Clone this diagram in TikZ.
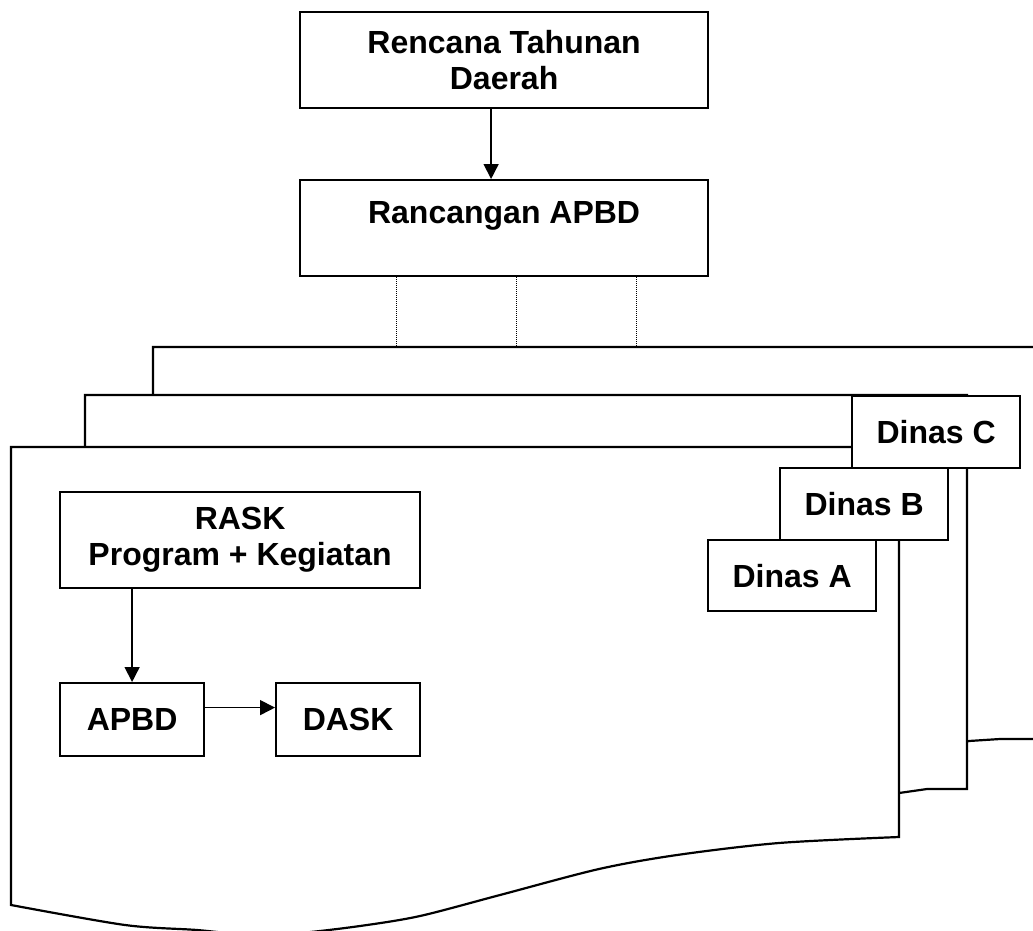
\documentclass[tikz,border=0pt]{standalone}
\usepackage{fontspec}
\setmainfont{Liberation Sans}
\usetikzlibrary{arrows.meta}
\begin{document}
\begin{tikzpicture}[x=1pt,y=-1pt,
  box/.style={draw,line width=2.2pt,fill=white,anchor=north west,inner sep=0pt,
    align=center,font=\bfseries\fontsize{32}{36}\selectfont},
  arr/.style={line width=1.6pt,-{Triangle[length=15pt,width=15pt]}},
  page/.style={draw,line width=2.2pt,fill=white},
  dotline/.style={line width=1pt,densely dotted}]
\useasboundingbox (0,0) rectangle (1033,931);
\clip (0,0) rectangle (1033,931);
% Top of the chain
\node[box,minimum width=408pt,minimum height=96pt] (rencana) at (299,11) {Rencana Tahunan\\Daerah};
\node[box,minimum width=408pt,text height=43pt,text depth=53pt] (rancangan) at (299,179) {Rancangan APBD};
\draw[arr] ([xshift=-13pt]rencana.south) -- ([xshift=-13pt]rancangan.north);
% Stacked sheets, back to front
\coordinate (backtop) at (153,347);
\filldraw[page] (backtop) -- (1045,347) -- (1045,739) -- (1000,739) -- (969,741) -- (900,760) -- (153,760) -- cycle;
\foreach \dx in {-108,12,132}
  \draw[dotline] ([xshift=\dx pt]rancangan.south) coordinate (tap) -- (tap |- backtop);
\filldraw[page] (85,395) -- (967,395) -- (967,789) -- (927,789) -- (899,793) -- (85,793) -- cycle;
\filldraw[page] (11,447) -- (899,447) -- (899,837)
  -- plot[smooth,tension=0.5] coordinates {(899,837) (779,843) (677,855) (599,869) (500,895)
     (420,916) (360,926) (300,933) (250,935) (197,930) (125,925) (11,905)}
  -- cycle;
% Tabs
\node[box,minimum width=168pt,minimum height=72pt] (dinasC) at (851,395) {Dinas C};
\node[box,minimum width=168pt,minimum height=72pt] (dinasB) at (779,467) {Dinas B};
\node[box,minimum width=168pt,minimum height=71pt] (dinasA) at (707,539) {Dinas A};
% Front sheet
\node[box,minimum width=360pt,minimum height=96pt] (rask) at (59,491) {RASK\\Program + Kegiatan};
\node[box,minimum width=144pt,minimum height=73pt] (apbd) at (59,682) {APBD};
\node[box,minimum width=144pt,minimum height=73pt] (dask) at (275,682) {DASK};
\draw[arr] (rask.south -| apbd.north) -- (apbd.north);
\draw[arr] ([yshift=12pt]apbd.east) -- ([yshift=12pt]dask.west);
\end{tikzpicture}
\end{document}
